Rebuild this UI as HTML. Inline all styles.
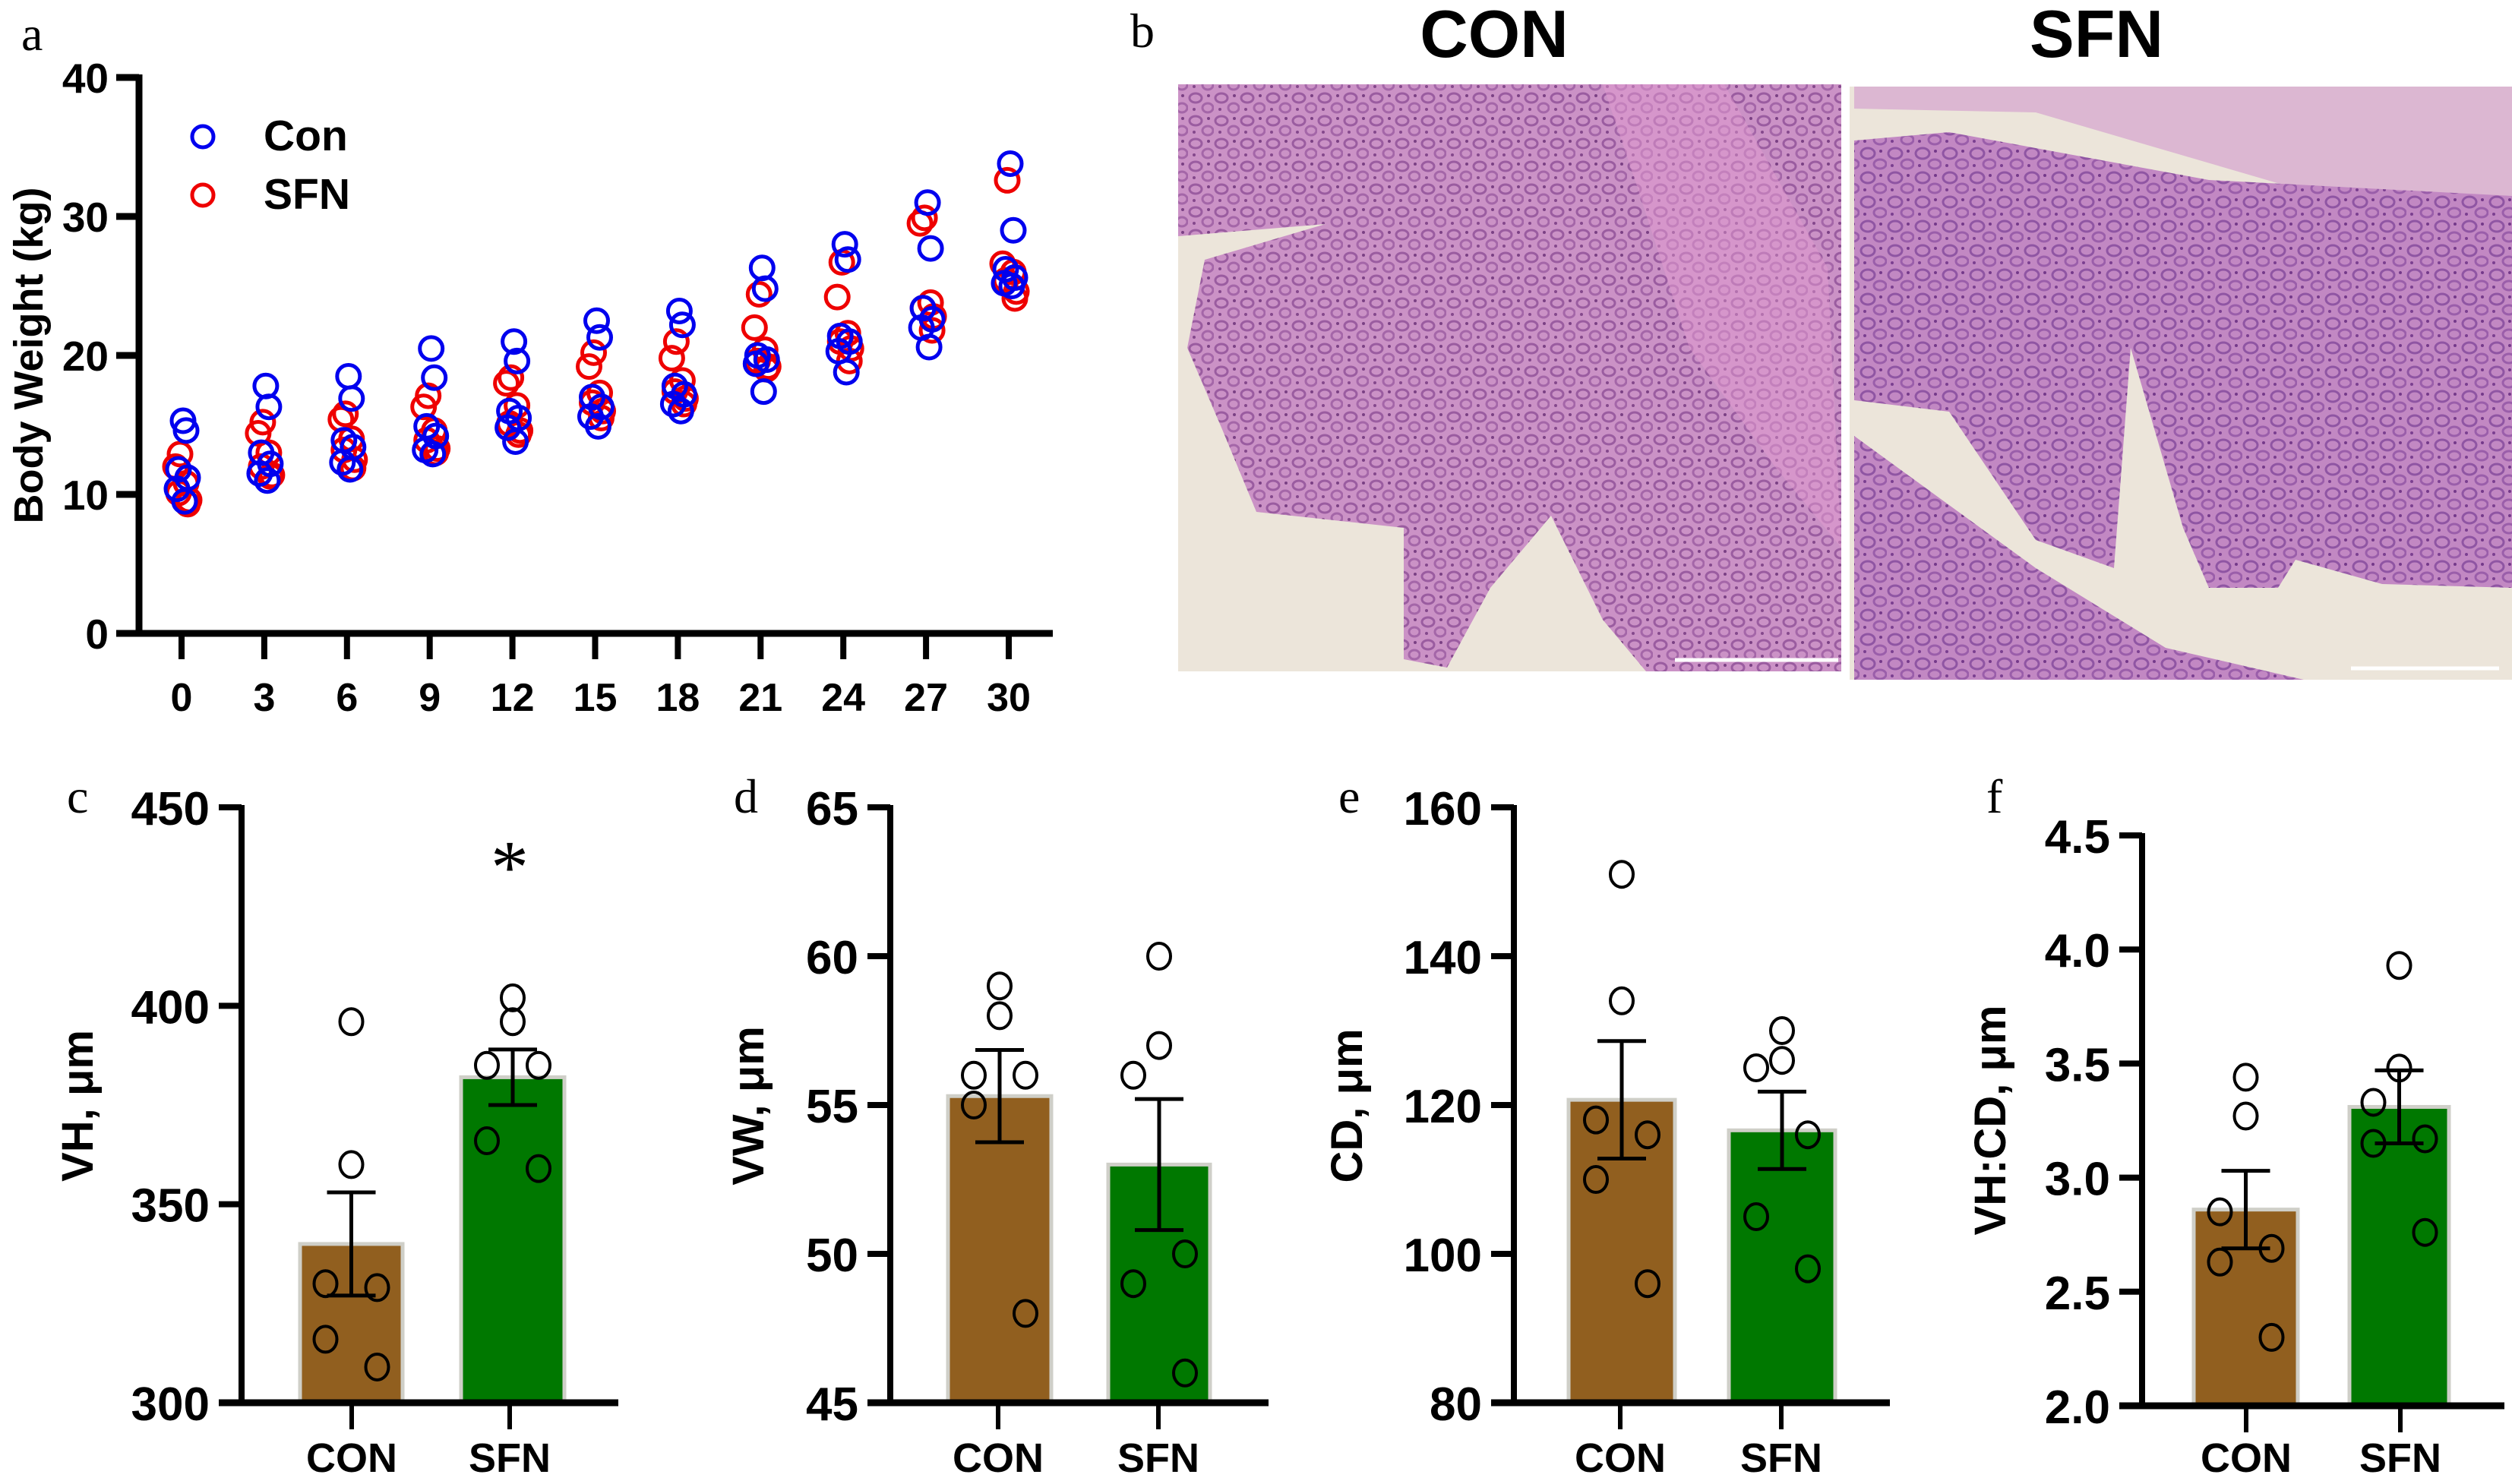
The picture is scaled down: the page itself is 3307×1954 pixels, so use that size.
<!DOCTYPE html>
<html><head><meta charset="utf-8"><style>
html,body{margin:0;padding:0;background:#fff}
svg{display:block}
text{font-family:"Liberation Sans",Arial,sans-serif}
</style></head><body>
<svg id="fig" width="3307" height="1954" viewBox="0 0 3307 1954" xmlns="http://www.w3.org/2000/svg">
<defs>
<pattern id="cellsA" width="34" height="30" patternUnits="userSpaceOnUse">
<rect width="34" height="30" fill="#cb92c6"/>
<ellipse cx="10" cy="9" rx="8" ry="6" fill="none" stroke="#9a5ca0" stroke-width="3"/>
<ellipse cx="26" cy="22" rx="7" ry="6" fill="none" stroke="#a466a8" stroke-width="3"/>
<circle cx="27" cy="6" r="2" fill="#7a4084"/><circle cx="8" cy="24" r="2" fill="#84488c"/>
</pattern>
<pattern id="cellsB" width="36" height="32" patternUnits="userSpaceOnUse">
<rect width="36" height="32" fill="#c288c3"/>
<ellipse cx="11" cy="10" rx="9" ry="7" fill="none" stroke="#8f55a3" stroke-width="3"/>
<ellipse cx="27" cy="24" rx="8" ry="6" fill="none" stroke="#9a5eaa" stroke-width="3"/>
<circle cx="28" cy="7" r="2" fill="#74398a"/><circle cx="7" cy="26" r="2" fill="#7a3f90"/>
</pattern>
</defs>

<g id="panelA">
<text x="28" y="66" font-size="64" style="font-family:'Liberation Serif',serif">a</text>
<text transform="translate(56,468) rotate(-90)" text-anchor="middle" font-size="54" font-weight="bold">Body Weight (kg)</text>
<g id="aAxes"></g>
<g id="aPoints"></g>
<circle cx="267" cy="180" r="14" fill="none" stroke="#0000ee" stroke-width="5"/>
<text x="347" y="198" font-size="57" font-weight="bold">Con</text>
<circle cx="267" cy="257" r="14" fill="none" stroke="#ee0000" stroke-width="5"/>
<text x="347" y="275" font-size="57" font-weight="bold">SFN</text>
</g>

<g id="panelB">
<text x="1488" y="62" font-size="64" style="font-family:'Liberation Serif',serif">b</text>
<text x="1967" y="75" text-anchor="middle" font-size="88" font-weight="bold">CON</text>
<text x="2760" y="75" text-anchor="middle" font-size="88" font-weight="bold">SFN</text>
<g>
<rect x="1551" y="111" width="873" height="773" fill="#ece5da"/>
<polygon id="conTissue" fill="url(#cellsA)" points=""/>
<polygon id="conMuscle" fill="#e29ad0" opacity="0.5" points=""/>
<line x1="2205" y1="869" x2="2420" y2="869" stroke="#fff" stroke-width="5"/>
</g>
<g>
<rect x="2435" y="114" width="872" height="781" fill="#ece5da"/>
<polygon id="sfnTop" fill="#dcb7d2" points=""/>
<polygon id="sfnTissue" fill="url(#cellsB)" points=""/>
<polygon id="sfnTissue2" fill="url(#cellsB)" points=""/>
<line x1="3095" y1="880" x2="3290" y2="880" stroke="#fff" stroke-width="5"/>
</g>
</g>

<g id="bars"></g>
</svg>
<script>
var NS="http://www.w3.org/2000/svg";
var days=[0,3,6,9,12,15,18,21,24,27,30];
var yTicksA=[0,10,20,30,40];
var conWeights=[
[15.3,14.6,11.8,11.2,10.4,9.5],[17.8,16.3,13.0,12.2,11.5,11.0],[18.5,16.9,13.9,13.4,12.3,11.8],
[20.5,18.4,14.9,14.2,13.2,12.9],[21.0,19.6,16.0,15.5,14.8,13.8],[22.5,21.3,17.0,16.3,15.6,14.9],
[23.2,22.2,17.8,17.2,16.5,16.0],[26.3,24.8,20.0,19.7,19.4,17.4],[28.0,26.9,21.4,21.0,20.3,18.8],
[31.0,27.7,23.4,22.6,22.0,20.6],[33.8,29.0,26.2,25.6,25.2,25.0]];
var sfnWeights=[
[12.9,12.0,10.8,10.1,9.6,9.3],[15.2,14.4,13.0,12.0,11.4,11.3],[15.8,15.4,14.0,13.2,12.5,11.9],
[17.1,16.3,14.6,13.9,13.3,13.0],[18.4,18.0,16.4,15.1,14.6,14.3],[20.2,19.2,17.3,16.6,16.0,15.5],
[21.0,19.8,18.2,17.4,16.9,16.5],[24.4,22.0,20.4,19.6,19.2,19.0],[26.7,24.2,21.6,21.0,20.5,19.6],
[29.9,29.5,23.8,23.4,22.8,21.8],[32.6,26.6,26.0,25.4,24.6,24.1]];
var barGroups=["CON","SFN"];
var vhMeans=[340,382]; var vhSem=[13,7];
var vhCon=[396,360,330,329,316,309]; var vhSfn=[402,396,385,385,366,359];
var vhTicks=[300,350,400,450];
var vwMeans=[55.3,53.0]; var vwSem=[1.55,2.2];
var vwCon=[59,58,56,56,55,48]; var vwSfn=[60,57,56,50,49,46];
var vwTicks=[45,50,55,60,65];
var cdMeans=[120.7,116.6]; var cdSem=[7.9,5.2];
var cdCon=[151,134,118,116,110,96]; var cdSfn=[130,126,125,116,105,98];
var cdTicks=[80,100,120,140,160];
var ratioMeans=[2.86,3.31]; var ratioSem=[0.17,0.16];
var ratioCon=[3.44,3.27,2.85,2.69,2.63,2.30]; var ratioSfn=[3.93,3.48,3.33,3.17,3.15,2.76];
var ratioTicks=["2.0","2.5","3.0","3.5","4.0","4.5"];

function mk(tag,attrs,parent){var e=document.createElementNS(NS,tag);for(var k in attrs)e.setAttribute(k,attrs[k]);parent.appendChild(e);return e;}

(function(){
 var ax=document.getElementById('aAxes'), pg=document.getElementById('aPoints');
 var x0=239,x1=1328,y0=834,y1=102;
 function X(d){return x0+(d-days[0])/(days[days.length-1]-days[0])*(x1-x0);}
 function Y(v){return y0-(v-0)/(40-0)*(y0-y1);}
 var l=mk('line',{x1:183,y1:Y(40)-4,x2:183,y2:y0+4,stroke:'#000','stroke-width':9},ax);
 
 
 var l2=mk('line',{x1:179,y1:y0,x2:1386,y2:y0,stroke:'#000','stroke-width':9},ax);
 
 
 yTicksA.forEach(function(t){
  mk('line',{x1:153,y1:Y(t),x2:183,y2:Y(t),stroke:'#000','stroke-width':9},ax);
  var tx=mk('text',{x:143,y:Y(t)+20,'text-anchor':'end','font-size':55,'font-weight':'bold'},ax);
  tx.textContent=t;
  
  
 });
 days.forEach(function(d){
  mk('line',{x1:X(d),y1:y0,x2:X(d),y2:868,stroke:'#000','stroke-width':8},ax);
  var tx=mk('text',{x:X(d),y:936,'text-anchor':'middle','font-size':52,'font-weight':'bold'},ax);
  tx.textContent=d;
  
  
 });
 var jit=[2,6,-4,8,-6,4], jit2=[-2,-8,6,-4,10,8];
 days.forEach(function(d,i){
  sfnWeights[i].forEach(function(v,j){
   var c=mk('circle',{cx:X(d)+jit2[j],cy:Y(v),r:15,fill:'none',stroke:'#ee0000','stroke-width':5},pg);
   
   
  });
  conWeights[i].forEach(function(v,j){
   var c=mk('circle',{cx:X(d)+jit[j],cy:Y(v),r:15,fill:'none',stroke:'#0000ee','stroke-width':5},pg);
   
   
  });
 });
})();

function barPanel(cfg){
 var g=mk('g',{},document.getElementById('bars'));
 
 
 var ticks=cfg.ticks.map(Number), lo=ticks[0], hi=ticks[ticks.length-1];
 function Y(v){return cfg.yb-(v-lo)/(hi-lo)*(cfg.yb-cfg.yt);}
 var lab=mk('text',{x:cfg.lx,y:1070,'font-size':64,style:"font-family:'Liberation Serif',serif"},g);
 lab.textContent=cfg.letter;
 
 
 var tt=mk('text',{transform:'translate('+cfg.tx+','+cfg.ty+') rotate(-90)','text-anchor':'middle','font-size':58,'font-weight':'bold'},g);
 tt.textContent=cfg.title;
 
 
 var colors=['#915f1f','#007800'];
 var means=cfg.means, sem=cfg.sem, pts=[cfg.con,cfg.sfn];
 var jx=[0,0,-34,34,-34,34];
 barGroups.forEach(function(gname,i){
  var bx=cfg.bars[i][0], bw=cfg.bars[i][1]-cfg.bars[i][0], cx=bx+bw/2;
  var r=mk('rect',{x:bx,y:Y(means[i]),width:bw,height:cfg.yb-Y(means[i]),fill:colors[i],stroke:'#cfcfc8','stroke-width':5},g);
  
  
  var top=Y(means[i]+sem[i]), bot=Y(means[i]-sem[i]);
  var e=mk('path',{d:'M'+cx+' '+bot+'V'+top+'M'+(cx-32)+' '+top+'H'+(cx+32)+'M'+(cx-32)+' '+bot+'H'+(cx+32),stroke:'#000','stroke-width':5,fill:'none'},g);
  
  
  pts[i].forEach(function(v,j){
   var c=mk('ellipse',{cx:cx+jx[j],cy:Y(v),rx:15,ry:17,fill:'none',stroke:'#000','stroke-width':4},g);
   
   
  });
  mk('line',{x1:cfg.ticksX[i],y1:cfg.yb,x2:cfg.ticksX[i],y2:cfg.yb+35,stroke:'#000','stroke-width':6},g);
  var xl=mk('text',{x:cfg.ticksX[i],y:1938,'text-anchor':'middle','font-size':54,'font-weight':'bold'},g);
  xl.textContent=gname;
  
  
 });
 var ya=mk('line',{x1:cfg.ax,y1:cfg.yt-3,x2:cfg.ax,y2:cfg.yb+4,stroke:'#000','stroke-width':8},g);
 
 
 var xa=mk('line',{x1:cfg.ax-30,y1:cfg.yb,x2:cfg.xe,y2:cfg.yb,stroke:'#000','stroke-width':9},g);
 
 
 cfg.ticks.forEach(function(t){
  var y=Y(Number(t));
  mk('line',{x1:cfg.ax-30,y1:y,x2:cfg.ax,y2:y,stroke:'#000','stroke-width':8},g);
  var tl=mk('text',{x:cfg.ax-42,y:y+23,'text-anchor':'end','font-size':62,'font-weight':'bold'},g);
  tl.textContent=t;
  
  
 });
 if(cfg.star){
  var s=mk('text',{x:cfg.ticksX[1],y:1175,'text-anchor':'middle','font-size':100,style:"font-family:'Liberation Serif',serif"},g);
  s.textContent='*';
  
  
 }
}
barPanel({name:'vh-chart',letter:'c',title:'VH, μm',tx:122,ty:1456,lx:88,ax:318,yt:1063,yb:1847,xe:814,bars:[[395,530],[607,743]],ticksX:[463,671],ticks:vhTicks,means:vhMeans,sem:vhSem,con:vhCon,sfn:vhSfn,star:true});
barPanel({name:'vw-chart',letter:'d',title:'VW, μm',tx:1005,ty:1456,lx:966,ax:1172,yt:1063,yb:1847,xe:1670,bars:[[1248,1384],[1459,1593]],ticksX:[1314,1525],ticks:vwTicks,means:vwMeans,sem:vwSem,con:vwCon,sfn:vwSfn});
barPanel({name:'cd-chart',letter:'e',title:'CD, μm',tx:1793,ty:1456,lx:1762,ax:1993,yt:1063,yb:1847,xe:2488,bars:[[2065,2205],[2276,2416]],ticksX:[2133,2345],ticks:cdTicks,means:cdMeans,sem:cdSem,con:cdCon,sfn:cdSfn});
barPanel({name:'vh-cd-ratio-chart',letter:'f',title:'VH:CD, μm',tx:2640,ty:1475,lx:2615,ax:2820,yt:1100,yb:1851,xe:3297,bars:[[2888,3025],[3093,3224]],ticksX:[2957,3160],ticks:ratioTicks,means:ratioMeans,sem:ratioSem,con:ratioCon,sfn:ratioSfn});

function P(arr){return arr.map(function(p){return (1540+p[0]*1.14).toFixed(0)+','+(90+p[1]*0.526).toFixed(0);}).join(' ');}
document.getElementById('conTissue').setAttribute('points',P([[10,40],[775,40],[775,1510],[550,1510],[500,1380],[440,1120],[370,1300],[320,1500],[270,1480],[270,1150],[100,1110],[60,900],[20,700],[40,480],[180,390],[10,420]]));
document.getElementById('conMuscle').setAttribute('points',P([[500,40],[640,40],[760,500],[775,1200],[700,1000],[600,700],[540,300]]));
document.getElementById('sfnTop').setAttribute('points',P([[790,45],[1550,45],[1550,330],[1300,300],[1000,110],[790,100]]));
document.getElementById('sfnTissue').setAttribute('points',P([[790,180],[900,160],[1200,280],[1550,320],[1550,1300],[1400,1290],[1300,1230],[1280,1300],[1200,1300],[1170,1150],[1110,700],[1090,1250],[1000,1180],[900,860],[790,830]]));
document.getElementById('sfnTissue2').setAttribute('points',P([[790,920],[1000,1250],[1150,1450],[1310,1530],[790,1530]]));
</script>
</body></html>
